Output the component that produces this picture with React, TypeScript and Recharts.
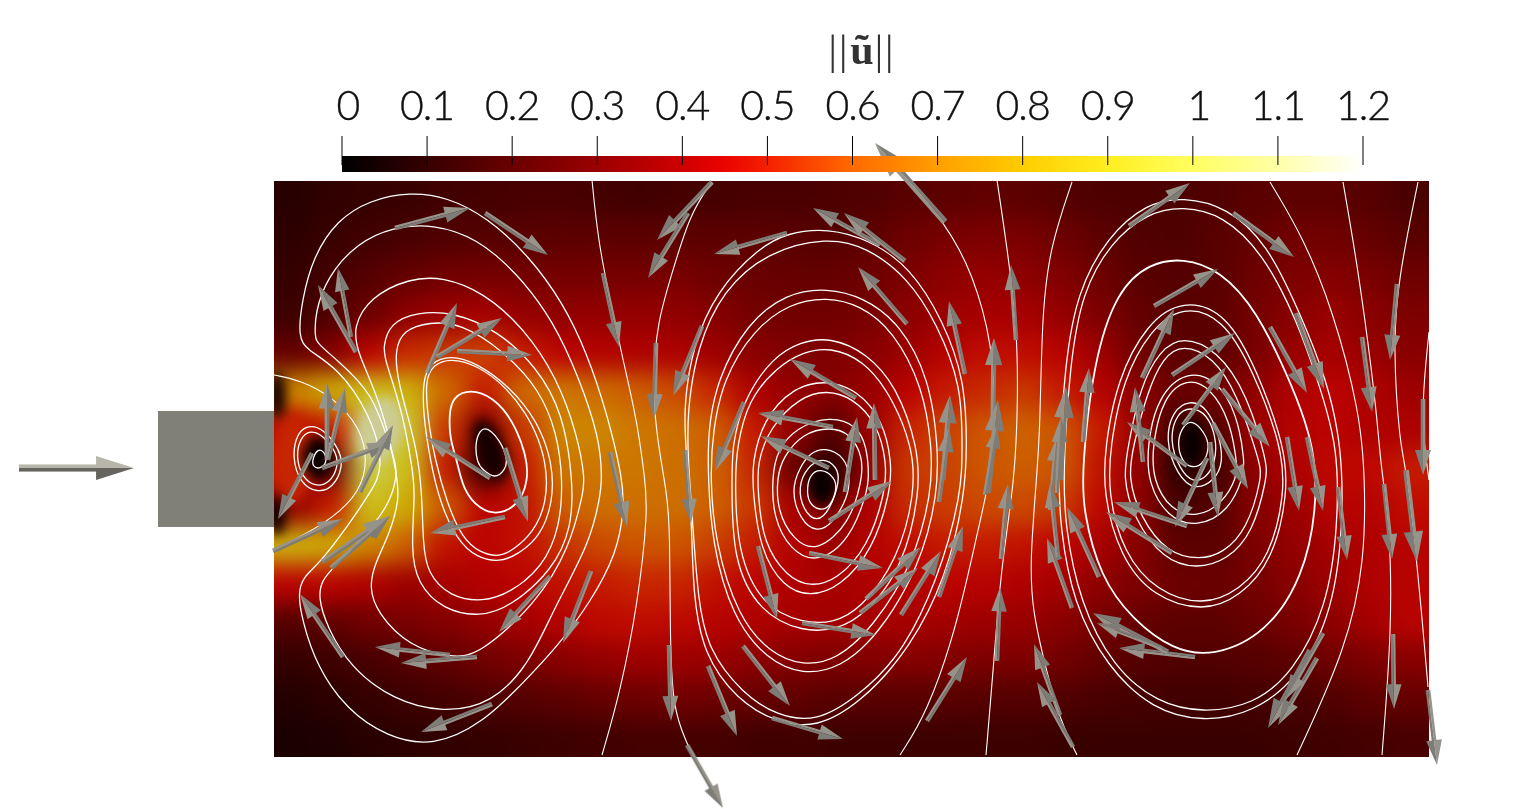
import React from 'react';
import { ComposedChart, Area, Line, Scatter, XAxis, YAxis, ReferenceArea } from 'recharts';

const W = 1533, H = 809;
// channel coordinates: origin at the inlet centre, x downstream, y up
const X_DOMAIN = [-274, 1259];
const Y_DOMAIN = [-340, 469];

const cbTicks = [0, 0.1, 0.2, 0.3, 0.4, 0.5, 0.6, 0.7, 0.8, 0.9, 1, 1.1, 1.2];
const cbStops = [0, 0.1, 0.2, 0.3, 0.4, 0.45, 0.5, 0.6, 0.7, 0.8, 0.9, 1, 1.1, 1.2];
const cbColors = [[0,0,0],[56,0,0],[106,0,0],[156,0,0],[207,0,0],[234,4,0],[245,32,0],[255,106,0],[255,158,0],[255,205,0],[255,238,32],[255,255,96],[255,255,168],[255,255,255]];

const heatCols = [19,58,96,135,173,212,250,289,327,366,404,443,481,520,558,597,635,674,712,751,789,828,866,905,943,982,1020,1059,1097,1136];
const heatRowY = [269,231,192,154,115,77,39,0,-38,-77,-115,-154,-192,-230,-269];
const heat01 = [.09,.11,.12,.13,.15,.16,.17,.17,.16,.15,.16,.16,.17,.17,.18,.19,.21,.22,.23,.22,.2,.18,.18,.18,.19,.21,.22,.22,.2,.17];
const heat02 = [.1,.13,.15,.17,.19,.2,.21,.22,.22,.22,.22,.22,.22,.21,.2,.22,.26,.29,.3,.29,.26,.22,.19,.18,.21,.24,.27,.27,.24,.21];
const heat03 = [.12,.16,.2,.24,.27,.28,.28,.28,.28,.28,.29,.26,.25,.24,.24,.26,.3,.34,.36,.34,.31,.26,.21,.2,.21,.26,.3,.32,.29,.26];
const heat04 = [.14,.19,.26,.34,.38,.40,.36,.35,.36,.36,.35,.32,.28,.27,.27,.29,.34,.38,.40,.40,.36,.3,.24,.2,.22,.28,.33,.37,.33,.3];
const heat05 = [.24,.32,.45,.53,.55,.57,.5,.45,.43,.42,.42,.38,.33,.31,.3,.33,.38,.44,.47,.47,.44,.38,.27,.22,.22,.29,.37,.40,.37,.33];
const heat06 = [.72,.82,.9,.85,.65,.5,.65,.68,.65,.62,.58,.52,.42,.36,.33,.37,.45,.5,.53,.55,.5,.44,.33,.25,.27,.35,.42,.45,.42,.38];
const heat07 = [.45,.5,1.05,.95,.55,.3,.55,.72,.72,.68,.66,.62,.5,.35,.2,.38,.52,.57,.6,.63,.6,.5,.37,.13,.2,.38,.43,.45,.42,.42];
const heat08 = [.5,.25,1.0,.9,.5,.12,.5,.68,.68,.68,.66,.63,.52,.25,.1,.36,.55,.57,.6,.62,.6,.48,.35,.1,.15,.35,.42,.46,.46,.5];
const heat09 = [.35,.5,.9,.82,.6,.45,.48,.62,.66,.66,.66,.62,.55,.4,.3,.42,.53,.56,.58,.58,.55,.46,.33,.17,.2,.32,.38,.44,.44,.47];
const heat10 = [.85,.82,.72,.62,.48,.45,.48,.54,.58,.6,.6,.56,.5,.43,.38,.43,.47,.5,.5,.48,.45,.4,.32,.22,.22,.3,.36,.4,.42,.44];
const heat11 = [.45,.45,.42,.38,.4,.43,.45,.48,.5,.52,.52,.48,.45,.42,.4,.42,.44,.45,.44,.42,.4,.34,.3,.26,.25,.28,.33,.38,.42,.44];
const heat12 = [.2,.23,.27,.29,.32,.36,.4,.43,.46,.47,.46,.44,.42,.4,.39,.4,.4,.39,.38,.37,.33,.28,.24,.22,.22,.25,.29,.34,.4,.44];
const heat13 = [.12,.14,.17,.2,.23,.27,.3,.33,.36,.38,.38,.37,.34,.32,.3,.31,.32,.31,.3,.3,.27,.23,.2,.19,.19,.2,.22,.27,.3,.33];
const heat14 = [.08,.1,.12,.14,.16,.18,.2,.22,.24,.26,.27,.26,.24,.23,.21,.21,.21,.21,.2,.2,.19,.17,.16,.15,.15,.16,.17,.19,.22,.24];
const heat15 = [.06,.07,.09,.1,.11,.12,.13,.14,.15,.16,.16,.16,.15,.15,.14,.14,.14,.14,.14,.14,.13,.13,.13,.13,.13,.13,.14,.15,.16,.17];
const heatRows = [heat01,heat02,heat03,heat04,heat05,heat06,heat07,heat08,heat09,heat10,heat11,heat12,heat13,heat14,heat15];

// local extrema of the field: x, y, semi-axes, tilt, value
const extrema = [
  [18,11,20,46,0,.52],[44,11,16,22,0,.03],[3,74,9,24,0,.05],[3,-46,9,20,0,.04],
  [216,19,14,32,-20,.05],[548,-16,14,20,0,.02],[918,26,12,24,0,.02],[106,39,22,34,15,1.12],
];

const L1=[[24,132],[28,169],[39,212],[63,249],[96,269],[136,277],[173,272],[213,252],[256,212],[289,166],[313,116],[333,56],[349,-11],[350,-41],[343,-84],[316,-134],[283,-178],[249,-214],[209,-254],[159,-278],[113,-268],[73,-241],[43,-198],[28,-151],[24,-124],[29,-108],[46,-94],[76,-54],[96,-24],[111,2],[96,56],[63,102],[33,119]];
const L2=[[41,132],[41,156],[53,192],[83,226],[119,242],[159,245],[203,231],[243,196],[279,149],[306,89],[326,29],[328,-11],[326,-28],[316,-74],[279,-141],[256,-194],[218,-235],[169,-244],[119,-231],[76,-198],[53,-158],[44,-128],[48,-111],[59,-99],[96,-61],[116,-34],[125,-1],[116,22],[99,76],[63,109],[43,126]];
const L3=[[79,142],[96,172],[136,191],[169,192],[209,177],[249,142],[283,92],[304,32],[311,-11],[309,-24],[296,-78],[263,-134],[203,-188],[176,-188],[136,-178],[103,-144],[95,-118],[101,-94],[116,-64],[125,-31],[124,-11],[109,62],[83,117]];
const L4=[[109,122],[116,146],[143,157],[179,157],[223,139],[263,102],[289,56],[299,-11],[298,-58],[279,-101],[236,-138],[206,-148],[169,-141],[143,-114],[137,-81],[141,-24],[139,-4],[129,56],[111,109]];
const L5=[[121,119],[129,139],[156,147],[186,146],[229,119],[266,79],[283,36],[289,-11],[286,-58],[269,-98],[236,-124],[209,-133],[176,-128],[153,-104],[149,-74],[148,-24],[143,22],[123,89]];
const L6=[[149,89],[156,106],[176,114],[203,106],[236,82],[263,49],[279,6],[279,-34],[266,-68],[243,-86],[226,-93],[203,-89],[183,-71],[166,-34],[156,9],[149,56]];
const L7=[[151,89],[159,104],[176,111],[203,104],[233,82],[259,46],[273,6],[273,-34],[259,-64],[239,-81],[226,-88],[206,-84],[188,-69],[173,-34],[161,9],[154,49]];
const L8=[[175,56],[179,72],[196,80],[219,72],[239,49],[253,12],[254,-11],[246,-34],[226,-46],[206,-41],[189,-21],[183,9],[176,29]];
const L9=[[201,26],[206,39],[213,42],[226,29],[234,9],[231,-1],[221,-10],[209,-1],[203,6]];
const V1=[[18,12],[23,36],[34,44],[49,41],[66,19],[69,2],[59,-19],[43,-24],[26,-14]];
const V2=[[22,12],[26,31],[36,39],[49,34],[63,16],[64,2],[56,-14],[41,-18],[28,-8]];
const V3=[[38,9],[44,21],[51,17],[53,6],[46,0],[39,2]];
const M1=[[513,236],[554,241],[596,229],[636,202],[669,149],[691,89],[693,22],[691,-24],[673,-108],[633,-184],[586,-234],[543,-259],[503,-254],[463,-231],[429,-185],[419,-124],[418,-58],[413,9],[409,56],[418,122],[443,179],[486,222]];
const M2=[[553,232],[593,222],[633,192],[663,146],[688,82],[688,22],[688,-24],[663,-114],[626,-188],[583,-228],[543,-253],[503,-247],[468,-224],[434,-181],[424,-131],[419,-58],[414,9],[413,56],[423,122],[449,179],[493,217]];
const M3=[[553,181],[589,172],[626,146],[656,89],[664,22],[664,-24],[646,-98],[603,-168],[566,-199],[529,-206],[493,-191],[458,-148],[438,-74],[434,-8],[434,39],[443,89],[473,146],[513,176]];
const M4=[[553,172],[586,164],[619,139],[649,82],[658,22],[658,-24],[638,-98],[599,-158],[563,-191],[529,-197],[496,-184],[464,-148],[441,-74],[436,-8],[439,39],[449,89],[479,139],[516,166]];
const M5=[[556,132],[593,116],[623,82],[644,22],[646,-24],[629,-98],[593,-144],[563,-161],[529,-163],[486,-144],[458,-91],[458,-8],[458,22],[469,69],[499,112],[526,127]];
const M6=[[556,122],[589,109],[616,76],[639,22],[641,-24],[624,-91],[586,-141],[559,-154],[529,-154],[489,-138],[463,-84],[461,-8],[463,22],[474,69],[503,102],[529,117]];
const M7=[[553,89],[583,79],[609,49],[618,6],[616,-24],[599,-81],[566,-118],[536,-128],[509,-118],[486,-81],[479,-24],[478,6],[489,49],[519,82]];
const M8=[[553,79],[579,71],[603,46],[613,6],[611,-24],[594,-78],[563,-111],[536,-118],[513,-108],[489,-74],[484,-24],[483,6],[496,42],[526,72]];
const M9=[[556,53],[583,44],[593,22],[595,-8],[593,-24],[576,-71],[543,-95],[516,-81],[499,-48],[498,-8],[503,19],[523,42]];
const M10=[[556,42],[576,36],[589,12],[588,-11],[576,-54],[543,-84],[519,-71],[503,-41],[503,-8],[509,12],[529,36]];
const M11=[[551,22],[571,12],[576,-8],[574,-28],[559,-54],[543,-64],[526,-51],[517,-21],[526,2],[536,16]];
const M12=[[549,12],[563,2],[566,-11],[556,-41],[543,-54],[529,-41],[524,-18],[533,2]];
const M13=[[546,1],[561,-8],[563,-21],[556,-38],[546,-42],[534,-34],[533,-18],[536,-6]];
const R1=[[909,272],[953,262],[993,226],[1026,156],[1053,89],[1068,22],[1069,-58],[1059,-141],[1026,-208],[979,-244],[929,-253],[879,-241],[833,-198],[799,-134],[786,-58],[784,-1],[791,106],[803,176],[833,232],[873,266]];
const R2=[[909,263],[949,254],[989,216],[1023,149],[1046,82],[1064,22],[1064,-58],[1053,-138],[1019,-204],[979,-236],[929,-244],[883,-234],[839,-198],[806,-134],[791,-58],[789,-1],[796,106],[808,176],[836,226],[873,256]];
const R3=[[909,211],[946,199],[983,159],[1019,82],[1041,22],[1043,-41],[1029,-108],[993,-164],[939,-188],[899,-181],[859,-151],[826,-108],[809,-41],[808,-1],[819,106],[843,179],[876,206]];
const R4=[[909,170],[953,156],[983,99],[1011,22],[1014,-24],[999,-91],[966,-128],[929,-143],[879,-128],[846,-88],[829,-24],[831,22],[843,89],[873,146]];
const R5=[[909,164],[949,151],[979,99],[1008,22],[1011,-24],[996,-88],[966,-121],[929,-137],[883,-123],[849,-84],[834,-24],[836,22],[849,89],[876,139]];
const R6=[[909,133],[943,119],[973,76],[993,6],[993,-8],[979,-64],[953,-91],[923,-100],[889,-91],[859,-48],[849,-8],[854,22],[866,82],[886,119]];
const R7=[[909,125],[939,112],[963,76],[986,6],[988,-8],[973,-61],[949,-84],[926,-91],[893,-84],[866,-48],[854,-8],[859,22],[873,76],[889,112]];
const R8=[[913,99],[943,89],[963,56],[971,6],[969,-8],[956,-41],[923,-59],[893,-48],[874,-14],[873,22],[883,72]];
const R9=[[913,91],[936,82],[956,49],[963,6],[963,-8],[949,-34],[923,-49],[896,-41],[879,-11],[878,22],[889,72]];
const R10=[[916,69],[933,62],[946,32],[949,6],[941,-11],[921,-22],[903,-6],[891,29],[899,59]];
const R11=[[916,62],[933,56],[943,29],[941,6],[933,-8],[919,-14],[906,-1],[895,29],[903,56]];
const R12=[[918,50],[931,36],[936,22],[929,4],[918,1],[908,7],[903,26],[908,42]];
const closedLines=[L1,L2,L3,L4,L5,L6,L7,L8,L9,V1,V2,V3,M1,M2,M3,M4,M5,M6,M7,M8,M9,M10,M11,M12,M13,R1,R2,R3,R4,R5,R6,R7,R8,R9,R10,R11,R12];
const heavyLines=[L8,R3];

const Arc=[[0,94],[26,89],[59,72],[86,42],[94,9],[86,-23],[59,-49],[26,-68],[0,-81]];
const O1=[[318,289],[324,229],[336,169],[349,109],[363,49],[371,-11],[374,-41],[364,-134],[346,-224],[328,-286]];
const O2=[[438,287],[416,256],[396,189],[384,149],[378,89],[383,29],[393,-24],[396,-61],[396,-171],[399,-241],[413,-274],[419,-288]];
const O3=[[634,289],[671,246],[699,196],[719,122],[721,56],[716,-11],[706,-51],[683,-158],[653,-244],[626,-286]];
const O4=[[723,289],[733,222],[743,142],[744,72],[741,-11],[727,-97],[719,-204],[712,-286]];
const O5=[[798,287],[776,222],[768,156],[766,39],[763,-4],[756,-91],[758,-141],[773,-204],[786,-251],[803,-286]];
const O6=[[996,287],[1029,232],[1059,159],[1086,56],[1091,-8],[1091,-91],[1073,-178],[1023,-286]];
const O7=[[1069,287],[1086,189],[1103,56],[1106,9],[1116,-58],[1118,-158],[1108,-286]];
const O8=[[1144,287],[1124,189],[1119,122],[1126,22],[1131,9],[1143,-91],[1154,-218]];
const O9=[[1155,137],[1150,89],[1148,39],[1155,-11]];
const openLines=[Arc,O1,O2,O3,O4,O5,O6,O7,O8,O9];

// velocity glyphs: tail x, tail y, tip x, tip y
const arrows=[
[121,241,196,261],[211,256,274,214],[82,117,44,184],[77,132,64,201],[153,96,183,166],[163,112,228,151],[183,118,258,114],[216,-9,152,32],[231,21,254,-53],[231,-48,156,-64],
[48,1,118,27],[53,9,53,86],[54,9,71,81],[38,16,4,-50],[86,-23,119,44],[-1,-82,69,-50],[48,-93,116,-47],[57,-99,116,-47],[69,-188,26,-125],[176,-186,101,-178],
[203,-188,127,-194],[218,-235,147,-263],[276,-107,225,-163],[317,-102,289,-174],[336,17,353,-58],[329,196,345,122],[382,126,380,50],[438,287,383,229],[414,256,374,191],[513,236,440,215],
[606,224,539,261],[631,208,570,256],[671,247,601,326],[633,145,584,202],[428,143,399,73],[470,67,441,-2],[582,71,516,110],[559,42,484,56],[555,1,487,33],[571,-23,583,52],
[601,-11,600,66],[555,-52,618,-12],[691,95,675,168],[742,129,737,204],[719,49,720,131],[714,-24,724,69],[711,-26,723,44],[669,-11,676,74],[665,-33,675,42],[776,-41,783,32],
[411,19,417,-54],[484,-77,503,-150],[535,-84,609,-99],[592,-130,647,-78],[586,-144,644,-99],[627,-146,667,-82],[665,-128,689,-57],[528,-154,602,-166],[469,-177,516,-237],[434,-197,463,-267],
[498,-249,569,-270],[395,-176,397,-252],[413,-276,449,-339],[653,-252,693,-188],[723,-192,726,-118],[727,-90,734,-15],[798,-139,773,-69],[786,-246,760,-175],[799,-278,763,-213],[855,243,916,286],
[959,256,1020,212],[880,163,944,200],[868,91,900,160],[898,94,961,136],[909,44,952,102],[948,80,996,22],[996,142,1033,76],[1022,156,1050,80],[1123,185,1116,109],[1088,132,1098,57],
[1149,70,1149,-6],[1033,32,1049,-42],[1013,32,1025,-42],[1064,-18,1073,-91],[1110,-15,1118,-90],[1132,-1,1143,-93],[939,46,974,-20],[936,27,944,-48],[933,11,901,-58],[913,3,853,47],
[869,7,861,82],[913,-57,840,-33],[898,-84,832,-43],[825,-108,793,-38],[809,27,815,101],[786,-11,792,82],[783,-24,787,52],[784,-88,776,-14],[921,-188,845,-179],[894,-183,819,-144],
[888,-179,823,-154],[1036,-181,994,-259],[1043,-189,1004,-256],[1049,-164,1011,-231],[1119,-165,1120,-240],[1154,-221,1163,-296],
];
const inletArrow=[[-255,1,-140,1]];

const ramp = (v: number) => {
  let i = 0;
  while (i < cbStops.length - 2 && v > cbStops[i + 1]) i++;
  const t = Math.max(0, Math.min(1, (v - cbStops[i]) / (cbStops[i + 1] - cbStops[i])));
  return cbColors[i].map((c, k) => c + (cbColors[i + 1][k] - c) * t);
};
const rgb = (c: number[], f = 1) => `rgb(${c.map((n) => Math.round(n * f)).join(',')})`;

const heatData = heatRows.flatMap((row, j) => row.map((v, i) => ({ x: heatCols[i], y: heatRowY[j], v, i, j })));
const extremaData = extrema.map(([x, y, rx, ry, tilt, v]) => ({ x, y, rx, ry, tilt, v }));
const arrowData = arrows.map(([x, y, x1, y1]) => ({ x, y, dx: x1 - x, dy: y1 - y }));
const inletData = inletArrow.map(([x, y, x1, y1]) => ({ x, y, dx: x1 - x, dy: y1 - y }));
const toPts = (l: number[][]) => l.map(([x, y]) => ({ x, y }));
const cbData = cbStops.map((value) => ({ value, h: 1 }));

const HeatCell = (p: any) => {
  const { cx, cy, payload: d } = p;
  const l = d.i === 0 ? 40 : 0, r = d.i === 29 ? 40 : 0, t = d.j === 0 ? 40 : 0, b = d.j === 14 ? 40 : 0;
  return <rect x={cx - 20 - l} y={cy - 20 - t} width={40 + l + r} height={40 + t + b} fill={rgb(ramp(d.v), 0.8)} />;
};
const ExtremumCell = (p: any) => {
  const { cx, cy, payload: d } = p;
  return <ellipse cx={cx} cy={cy} rx={d.rx} ry={d.ry} transform={`rotate(${d.tilt} ${cx} ${cy})`} fill={rgb(ramp(d.v), 0.8)} />;
};
const makeGlyph = (light: string, dark: string) => (p: any) => {
  const { cx, cy, payload: d } = p;
  const L = Math.hypot(d.dx, d.dy);
  const a = (Math.atan2(-d.dy, d.dx) * 180) / Math.PI;
  const hl = L * 0.33, hw = L * 0.105, sw = L * 0.031;
  return (
    <g transform={`translate(${cx} ${cy}) rotate(${a})`}>
      <rect x={0} y={-sw} width={L - hl + 1} height={sw} fill={light} />
      <rect x={0} y={0} width={L - hl + 1} height={sw} fill={dark} />
      <polygon points={`${L - hl},${-hw} ${L},0 ${L - hl},0`} fill={light} />
      <polygon points={`${L - hl},${hw} ${L},0 ${L - hl},0`} fill={dark} />
    </g>
  );
};
const FieldGlyph = makeGlyph('#96938b', '#7e7c76');
const InletGlyph = makeGlyph('#b8b6aa', '#65645e');

const CbTick = (p: any) => {
  const { x, y, payload } = p;
  const label = String(payload.value);
  return (
    <g>
      <line x1={x} x2={x} y1={y - 20} y2={y + 9} stroke="#000" strokeWidth={1} />
      <text x={x + (label.length === 1 ? 6 : 0)} y={y - 36} textAnchor="middle" fontFamily="Lato" fontWeight={300} fontSize={41} letterSpacing={-1} stroke="#111" strokeWidth={0.4} fill="#111">{label}</text>
    </g>
  );
};

export default function App() {
  return (
    <div style={{ position: 'absolute', left: 0, top: 0, width: W, height: H, background: '#fff', overflow: 'hidden' }}>
      <style>{`.heat-layer{filter:blur(12px);clip-path:url(#fieldClip)}.extrema-layer{filter:blur(6px);clip-path:url(#fieldClip)}`}</style>
      <div style={{ position: 'absolute', left: 0, top: 0 }}>
        <ComposedChart width={W} height={H} margin={{ top: 0, bottom: 0, left: 0, right: 0 }}>
          <defs>
            <clipPath id="fieldClip"><rect x={274} y={181} width={1155} height={576} /></clipPath>
          </defs>
          <XAxis dataKey="x" type="number" domain={X_DOMAIN} hide allowDataOverflow />
          <YAxis dataKey="y" type="number" domain={Y_DOMAIN} hide allowDataOverflow />
          <Scatter data={heatData} dataKey="y" shape={HeatCell} className="heat-layer" isAnimationActive={false} zIndex={10} />
          <Scatter data={extremaData} dataKey="y" shape={ExtremumCell} className="extrema-layer" isAnimationActive={false} zIndex={20} />
          <ReferenceArea x1={-116} x2={0} y1={-58} y2={58} fill="#807f78" fillOpacity={1} stroke="none" zIndex={30} />
          {closedLines.map((l, i) => (
            <Line key={`c${i}`} data={toPts(l)} dataKey="y" type="basisClosed" stroke="#fff" strokeWidth={heavyLines.includes(l) ? 1.8 : 1.3} dot={false} activeDot={false} legendType="none" isAnimationActive={false} zIndex={40} />
          ))}
          {openLines.map((l, i) => (
            <Line key={`o${i}`} data={toPts(l)} dataKey="y" type="basis" stroke="#fff" strokeWidth={1.1} dot={false} activeDot={false} legendType="none" isAnimationActive={false} zIndex={40} />
          ))}
          <Scatter data={arrowData} dataKey="y" shape={FieldGlyph} isAnimationActive={false} zIndex={50} />
          <Scatter data={inletData} dataKey="y" shape={InletGlyph} isAnimationActive={false} zIndex={50} />
        </ComposedChart>
      </div>
      <div style={{ position: 'absolute', left: 0, top: 0 }}>
        <ComposedChart width={W} height={180} data={cbData} margin={{ top: 106, bottom: 8, left: 342, right: 170 }}>
          <defs>
            <linearGradient id="cbGrad" x1="0" x2="1" y1="0" y2="0">
              {cbStops.map((s, i) => <stop key={s} offset={s / 1.2} stopColor={rgb(cbColors[i])} />)}
            </linearGradient>
          </defs>
          <XAxis xAxisId={0} dataKey="value" type="number" orientation="top" height={50} domain={[0, 1.2]} ticks={cbTicks} interval={0} axisLine={false} tickLine={false} tickSize={0} tickMargin={0} tick={CbTick} />
          <YAxis yAxisId={0} type="number" hide domain={[0, 1]} />
          <Area dataKey="h" type="linear" stroke="none" fill="url(#cbGrad)" fillOpacity={1} dot={false} activeDot={false} isAnimationActive={false} zIndex={100} />
          <text x={862} y={64} textAnchor="middle" fontFamily="Liberation Serif" fontSize={42} fill="#333">
            <tspan letterSpacing={2}>||</tspan><tspan fontWeight="bold" dx={1}>ũ</tspan><tspan dx={1} letterSpacing={2}>||</tspan>
          </text>
        </ComposedChart>
      </div>
    </div>
  );
}
